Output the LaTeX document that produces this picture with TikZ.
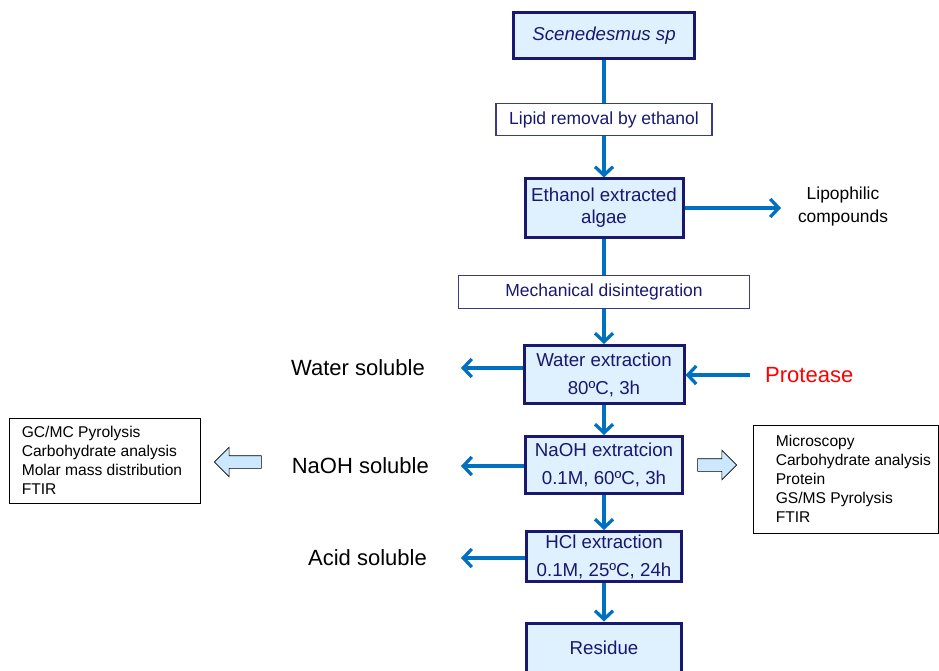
\documentclass[tikz,border=0pt]{standalone}
\usepackage{fontspec}
\setmainfont{Liberation Sans}
\usetikzlibrary{arrows.meta,shapes.arrows}
\definecolor{boxnavy}{RGB}{24,24,112}
\definecolor{boxfill}{RGB}{223,240,254}
\definecolor{flowblue}{RGB}{0,112,192}
\definecolor{hollowfill}{RGB}{204,232,255}
\definecolor{protred}{RGB}{255,0,0}

\begin{document}
\begin{tikzpicture}[x=1pt,y=-1pt,
        stage/.style={draw=boxnavy, line width=3pt, fill=boxfill, text=boxnavy, inner sep=0pt,
          align=center, font=\fontsize{18.7}{28}\selectfont},
        treat/.style={draw=boxnavy!85, line width=1.1pt, fill=white, text=boxnavy, inner sep=0pt,
          font=\fontsize{17.5}{21}\selectfont},
        flow/.style={draw=flowblue, line width=3.3pt, -{Straight Barb[length=8.5pt,width=18pt]}},
        link/.style={draw=flowblue, line width=3.3pt},
        fraction/.style={inner sep=0pt, font=\fontsize{22}{26}\selectfont},
        hollow/.style={single arrow, draw=black, line width=0.6pt, fill=hollowfill, inner sep=6pt,
          minimum width=29pt, single arrow head extend=8.5pt, single arrow head indent=0pt},
        listbox/.style={draw=black, line width=0.8pt, inner sep=0pt},
        listtxt/.style={align=left, inner sep=0pt, font=\fontsize{15.6}{19}\selectfont}]
      % page size of the reference, 1 unit = 1 px
      \useasboundingbox (0,0) rectangle (939,671);
      \def\cx{604}
      % Main column
      \node[stage, minimum width=181pt, minimum height=46pt] (scen) at (\cx,36) {\textit{Scenedesmus sp}};
      \node[treat, minimum width=216pt, minimum height=32pt] (lipid) at (\cx,119.5) {Lipid removal by ethanol};
      \node[stage, minimum width=158pt, minimum height=58pt, font=\fontsize{18.7}{22}\selectfont] (eth) at (\cx,208) {Ethanol extracted\\algae};
      \node[treat, minimum width=291pt, minimum height=33pt] (mech) at (\cx,292) {Mechanical disintegration};
      \node[stage, minimum width=160pt, minimum height=58pt] (water) at (\cx,374.5) {Water extraction\\80ºC, 3h};
      \node[stage, minimum width=157pt, minimum height=57pt] (naoh) at (\cx,465) {NaOH extratcion\\0.1M, 60ºC, 3h};
      \node[stage, minimum width=155pt, minimum height=50pt] (hcl) at (\cx,556.5) {HCl extraction\\0.1M, 25ºC, 24h};
      \node[stage, minimum width=155pt, minimum height=50pt] (res) at (\cx,648) {Residue};
      % Vertical flow
      \draw[link] (scen) -- (lipid);
      \draw[flow] (lipid) -- (eth);
      \draw[link] (eth) -- (mech);
      \draw[flow] (mech) -- (water);
      \draw[flow] (water) -- (naoh);
      \draw[flow] (naoh) -- (hcl);
      \draw[flow] (hcl) -- (res);
      % Lipophilic side product
      \node[align=center, inner sep=0pt, font=\fontsize{17.4}{23}\selectfont] (lipo) at (843,207) {Lipophilic\\compounds};
      \coordinate (lipoend) at (781,208);
      \draw[flow] (eth) -- (lipoend);
      % Soluble fractions
      \node[fraction, anchor=east] (ws) at (425,368) {Water soluble};
      \node[fraction, anchor=east] (ns) at (429,466) {NaOH soluble};
      \node[fraction, anchor=east] (as) at (427,558) {Acid soluble};
      \draw[flow, shorten >=36pt] (water.west |- ws.east) -- (ws.east);
      \draw[flow, shorten >=32pt] (naoh.west |- ns.east) -- (ns.east);
      \draw[flow, shorten >=34pt] (hcl.west |- as.east) -- (as.east);
      % Protease
      \node[fraction, anchor=west, text=protred] (prot) at (765,375) {Protease};
      \draw[flow, shorten <=15pt] (prot.west) -- (prot.west -| water.east);
      % Analyses
      \node[hollow, minimum height=47pt, shape border rotate=180] (larr) at (241,462) {};
      \node[hollow, minimum height=39pt] (rarr) at (714,465) {};
      \node[listbox, minimum width=191pt, minimum height=85pt] (lbox) at (104.5,460.5) {};
      \node[listtxt, anchor=west] (llist) at ([xshift=13pt]lbox.west) {GC/MC Pyrolysis\\Carbohydrate analysis\\Molar mass distribution\\FTIR};
      \node[listbox, minimum width=185pt, minimum height=108pt] (rbox) at (845.5,479) {};
      \node[listtxt, anchor=west] (rlist) at ([xshift=23pt]rbox.west) {Microscopy\\Carbohydrate analysis\\Protein\\GS/MS Pyrolysis\\FTIR};
    \end{tikzpicture}
\end{document}
